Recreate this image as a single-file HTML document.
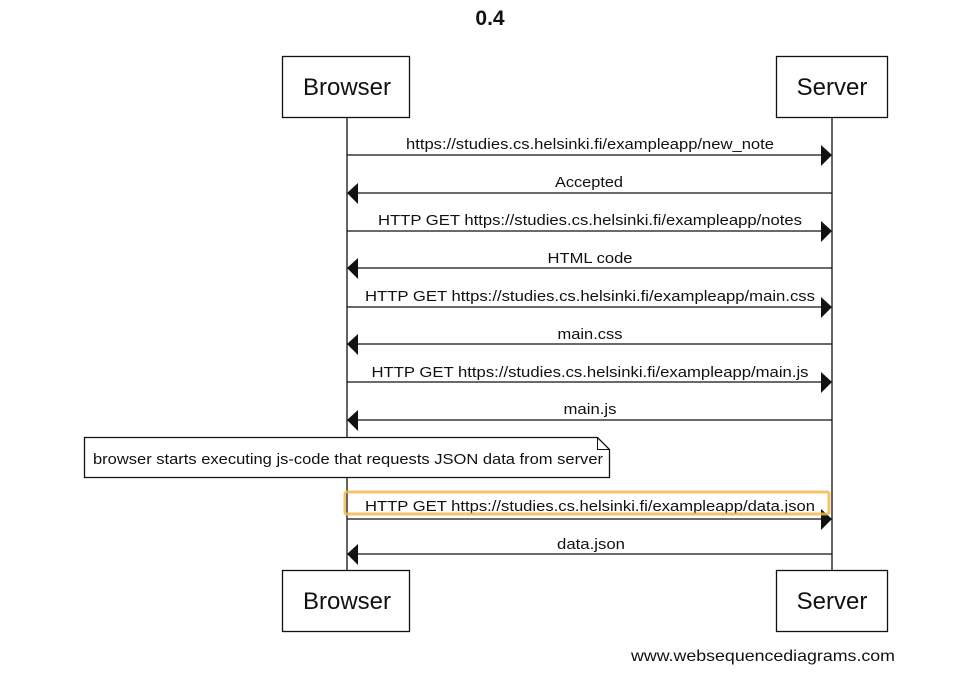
<!DOCTYPE html>
<html><head><meta charset="utf-8"><style>
html,body{margin:0;padding:0;background:#fff;}
svg{display:block;}
text{font-family:"Liberation Sans",Arial,sans-serif;fill:#111;}
</style></head><body>
<svg width="975" height="692" viewBox="0 0 975 692" xmlns="http://www.w3.org/2000/svg">
<text x="490" y="25" font-size="21" font-weight="bold" text-anchor="middle">0.4</text>
<g stroke="#111" stroke-width="1.3" fill="#fff">
<line x1="347" y1="117" x2="347" y2="571"/>
<line x1="832" y1="117" x2="832" y2="571"/>
<rect x="282.5" y="56.5" width="127" height="61"/>
<rect x="776.5" y="56.5" width="111" height="61"/>
<rect x="282.5" y="570.5" width="127" height="61"/>
<rect x="776.5" y="570.5" width="111" height="61"/>
</g>
<g font-size="24" text-anchor="middle">
<text x="347" y="95">Browser</text>
<text x="832" y="95">Server</text>
<text x="347" y="609">Browser</text>
<text x="832" y="609">Server</text>
</g>
<g stroke="#111" stroke-width="1.3">
<line x1="347" y1="155" x2="822" y2="155"/>
<line x1="357" y1="193" x2="832" y2="193"/>
<line x1="347" y1="231" x2="822" y2="231"/>
<line x1="357" y1="268" x2="832" y2="268"/>
<line x1="347" y1="307" x2="822" y2="307"/>
<line x1="357" y1="344" x2="832" y2="344"/>
<line x1="347" y1="382" x2="822" y2="382"/>
<line x1="357" y1="420" x2="832" y2="420"/>
<line x1="347" y1="519" x2="822" y2="519"/>
<line x1="357" y1="554" x2="832" y2="554"/>
</g>
<g fill="#111">
<polygon points="821,145 832,155 821,166"/>
<polygon points="358,183 347,193 358,204"/>
<polygon points="821,221 832,231 821,242"/>
<polygon points="358,258 347,268 358,279"/>
<polygon points="821,297 832,307 821,318"/>
<polygon points="358,334 347,344 358,355"/>
<polygon points="821,372 832,382 821,393"/>
<polygon points="358,410 347,420 358,431"/>
<polygon points="821,509 832,519 821,530"/>
<polygon points="358,544 347,554 358,565"/>
</g>
<g font-size="15" text-anchor="middle">
<text x="590" y="149" textLength="368" lengthAdjust="spacingAndGlyphs">https://studies.cs.helsinki.fi/exampleapp/new_note</text>
<text x="589" y="187" textLength="68" lengthAdjust="spacingAndGlyphs">Accepted</text>
<text x="590" y="225" textLength="424" lengthAdjust="spacingAndGlyphs">HTTP GET https://studies.cs.helsinki.fi/exampleapp/notes</text>
<text x="590" y="263" textLength="85" lengthAdjust="spacingAndGlyphs">HTML code</text>
<text x="590" y="301" textLength="450" lengthAdjust="spacingAndGlyphs">HTTP GET https://studies.cs.helsinki.fi/exampleapp/main.css</text>
<text x="590" y="339" textLength="65" lengthAdjust="spacingAndGlyphs">main.css</text>
<text x="590" y="377" textLength="437" lengthAdjust="spacingAndGlyphs">HTTP GET https://studies.cs.helsinki.fi/exampleapp/main.js</text>
<text x="590" y="414" textLength="53" lengthAdjust="spacingAndGlyphs">main.js</text>
<text x="590" y="511" textLength="450" lengthAdjust="spacingAndGlyphs">HTTP GET https://studies.cs.helsinki.fi/exampleapp/data.json</text>
<text x="591" y="549" textLength="68" lengthAdjust="spacingAndGlyphs">data.json</text>
</g>
<path d="M84.5,437.5 H597.5 L609.5,449.5 V477.5 H84.5 Z" fill="#fff" stroke="#111" stroke-width="1.3"/>
<path d="M597.5,437.5 V449.5 H609.5" fill="none" stroke="#111" stroke-width="1"/>
<text x="93" y="464" font-size="15" textLength="510" lengthAdjust="spacingAndGlyphs">browser starts executing js-code that requests JSON data from server</text>
<rect x="345" y="492" width="484" height="22" rx="2" fill="none" stroke="#f3b94c" stroke-width="3" opacity="0.85"/>
<text x="895" y="661" font-size="16" text-anchor="end" textLength="264" lengthAdjust="spacingAndGlyphs">www.websequencediagrams.com</text>
</svg>
</body></html>
